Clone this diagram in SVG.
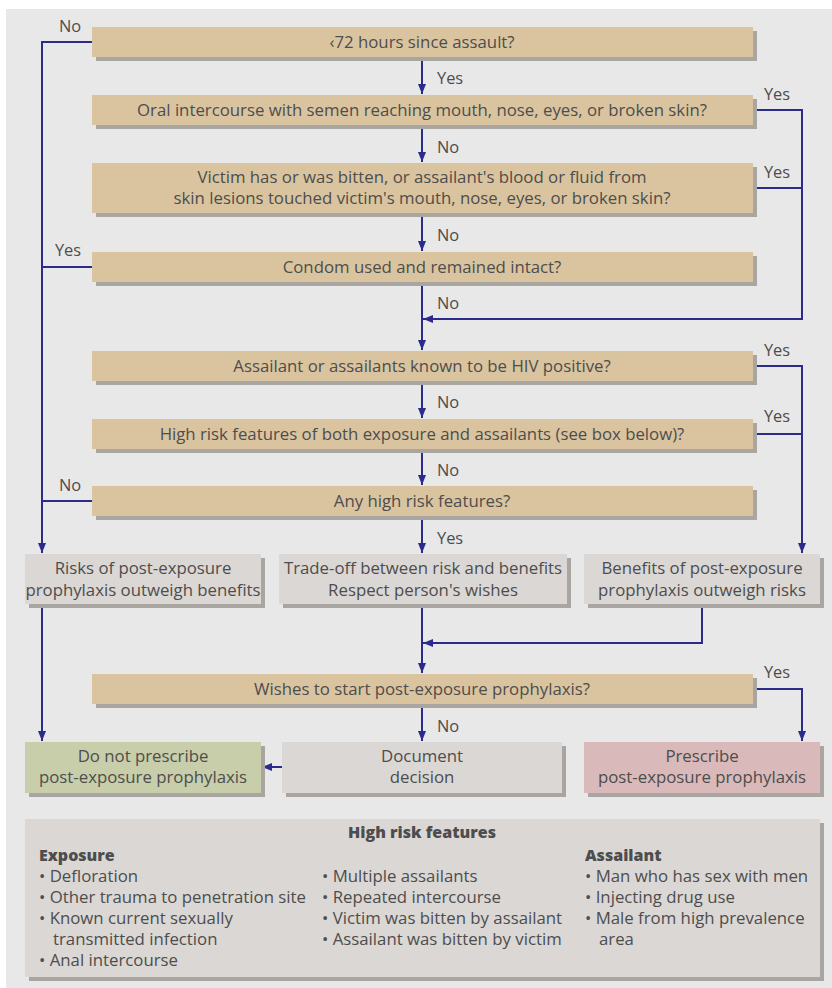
<svg xmlns="http://www.w3.org/2000/svg" width="832" height="988" viewBox="0 0 832 988">
<defs>
<style>
.q{fill:#dac49f}
.g{fill:#dbd7d4}
.gr{fill:#c8cea9}
.pk{fill:#d9b9b9}
.sh{fill:#a9a5a0}
text{font-family:"Open Sans","Liberation Sans",Arial,sans-serif;font-size:16.8px;fill:#4d4d4d}
.c{text-anchor:middle}
.b{font-weight:800;font-size:16px}
.l{font-size:16.4px}
.ln{fill:none;stroke:#2b2b8c;stroke-width:2}
</style>
<marker id="ah" markerUnits="userSpaceOnUse" markerWidth="10" markerHeight="12" viewBox="0 0 10 12" refX="10" refY="6" orient="auto">
<path d="M0,2 L10,6 L0,10 Z" fill="#2b2b8c"/>
</marker>
</defs>
<rect x="6" y="9" width="826" height="979" fill="#e8e8e8"/>

<g id="connectors">
<path class="ln" d="M92,42 H42 V553" marker-end="url(#ah)"/>
<path class="ln" d="M92,267 H42"/>
<path class="ln" d="M92,501 H42"/>
<path class="ln" d="M422,57 V94" marker-end="url(#ah)"/>
<path class="ln" d="M422,125 V162" marker-end="url(#ah)"/>
<path class="ln" d="M422,213 V251" marker-end="url(#ah)"/>
<path class="ln" d="M422,282 V350" marker-end="url(#ah)"/>
<path class="ln" d="M753,110 H802 V319 H423" marker-end="url(#ah)"/>
<path class="ln" d="M753,188 H802"/>
<path class="ln" d="M422,381 V418" marker-end="url(#ah)"/>
<path class="ln" d="M422,449 V485" marker-end="url(#ah)"/>
<path class="ln" d="M422,516 V553" marker-end="url(#ah)"/>
<path class="ln" d="M753,366 H802 V553" marker-end="url(#ah)"/>
<path class="ln" d="M753,434 H802"/>
<path class="ln" d="M422,604 V673" marker-end="url(#ah)"/>
<path class="ln" d="M702,604 V643 H423" marker-end="url(#ah)"/>
<path class="ln" d="M42,604 V741" marker-end="url(#ah)"/>
<path class="ln" d="M422,704 V741" marker-end="url(#ah)"/>
<path class="ln" d="M753,689 H802 V741" marker-end="url(#ah)"/>
<path class="ln" d="M282,767 H262" marker-end="url(#ah)"/>
</g>

<g id="labels" class="l">
<text x="70" y="32" class="c l">No</text>
<text x="437" y="84" class="l">Yes</text>
<text x="437" y="153" class="l">No</text>
<text x="437" y="241" class="l">No</text>
<text x="437" y="309" class="l">No</text>
<text x="437" y="408" class="l">No</text>
<text x="437" y="476" class="l">No</text>
<text x="437" y="544" class="l">Yes</text>
<text x="437" y="732" class="l">No</text>
<text x="68" y="256" class="c l">Yes</text>
<text x="70" y="491" class="c l">No</text>
<text x="777" y="100" class="c l">Yes</text>
<text x="777" y="178" class="c l">Yes</text>
<text x="777" y="356" class="c l">Yes</text>
<text x="777" y="422" class="c l">Yes</text>
<text x="777" y="678" class="c l">Yes</text>
</g>

<g id="q1"><rect class="sh" x="96" y="31" width="661" height="30"/><rect class="q" x="92" y="27" width="661" height="30"/><text x="422" y="48" class="c">‹72 hours since assault?</text></g>
<g id="q2"><rect class="sh" x="96" y="99" width="661" height="30"/><rect class="q" x="92" y="95" width="661" height="30"/><text x="422" y="116" class="c">Oral intercourse with semen reaching mouth, nose, eyes, or broken skin?</text></g>
<g id="q3"><rect class="sh" x="96" y="167" width="661" height="50"/><rect class="q" x="92" y="163" width="661" height="50"/><text x="422" y="183" class="c">Victim has or was bitten, or assailant's blood or fluid from</text><text x="422" y="204" class="c">skin lesions touched victim's mouth, nose, eyes, or broken skin?</text></g>
<g id="q4"><rect class="sh" x="96" y="256" width="661" height="30"/><rect class="q" x="92" y="252" width="661" height="30"/><text x="422" y="273" class="c">Condom used and remained intact?</text></g>
<g id="q5"><rect class="sh" x="96" y="355" width="661" height="30"/><rect class="q" x="92" y="351" width="661" height="30"/><text x="422" y="372" class="c">Assailant or assailants known to be HIV positive?</text></g>
<g id="q6"><rect class="sh" x="96" y="423" width="661" height="30"/><rect class="q" x="92" y="419" width="661" height="30"/><text x="422" y="440" class="c">High risk features of both exposure and assailants (see box below)?</text></g>
<g id="q7"><rect class="sh" x="96" y="490" width="661" height="30"/><rect class="q" x="92" y="486" width="661" height="30"/><text x="422" y="507" class="c">Any high risk features?</text></g>

<g id="o1"><rect class="sh" x="29" y="558" width="236" height="50"/><rect class="g" x="25" y="554" width="236" height="50"/><text x="143" y="574" class="c">Risks of post-exposure</text><text x="143" y="596" class="c">prophylaxis outweigh benefits</text></g>
<g id="o2"><rect class="sh" x="283" y="558" width="288" height="50"/><rect class="g" x="279" y="554" width="288" height="50"/><text x="423" y="574" class="c">Trade-off between risk and benefits</text><text x="423" y="596" class="c">Respect person's wishes</text></g>
<g id="o3"><rect class="sh" x="588" y="558" width="236" height="50"/><rect class="g" x="584" y="554" width="236" height="50"/><text x="702" y="574" class="c">Benefits of post-exposure</text><text x="702" y="596" class="c">prophylaxis outweigh risks</text></g>

<g id="q8"><rect class="sh" x="96" y="678" width="661" height="30"/><rect class="q" x="92" y="674" width="661" height="30"/><text x="422" y="695" class="c">Wishes to start post-exposure prophylaxis?</text></g>

<g id="f1"><rect class="sh" x="29" y="746" width="236" height="51"/><rect class="gr" x="25" y="742" width="236" height="51"/><text x="143" y="762" class="c">Do not prescribe</text><text x="143" y="783" class="c">post-exposure prophylaxis</text></g>
<g id="f2"><rect class="sh" x="286" y="746" width="280" height="51"/><rect class="g" x="282" y="742" width="280" height="51"/><text x="422" y="762" class="c">Document</text><text x="422" y="783" class="c">decision</text></g>
<g id="f3"><rect class="sh" x="588" y="746" width="236" height="51"/><rect class="pk" x="584" y="742" width="236" height="51"/><text x="702" y="762" class="c">Prescribe</text><text x="702" y="783" class="c">post-exposure prophylaxis</text></g>

<g id="legend">
<rect class="sh" x="29" y="823" width="795" height="158"/>
<rect class="g" x="25" y="819" width="795" height="158"/>
<text x="422" y="838" class="c b">High risk features</text>
<text x="39" y="861" class="b">Exposure</text>
<text x="39" y="882">• Defloration</text>
<text x="39" y="903">• Other trauma to penetration site</text>
<text x="39" y="924">• Known current sexually</text>
<text x="53" y="945">transmitted infection</text>
<text x="39" y="966">• Anal intercourse</text>
<text x="322" y="882">• Multiple assailants</text>
<text x="322" y="903">• Repeated intercourse</text>
<text x="322" y="924">• Victim was bitten by assailant</text>
<text x="322" y="945">• Assailant was bitten by victim</text>
<text x="585" y="861" class="b">Assailant</text>
<text x="585" y="882">• Man who has sex with men</text>
<text x="585" y="903">• Injecting drug use</text>
<text x="585" y="924">• Male from high prevalence</text>
<text x="599" y="945">area</text>
</g>
</svg>
